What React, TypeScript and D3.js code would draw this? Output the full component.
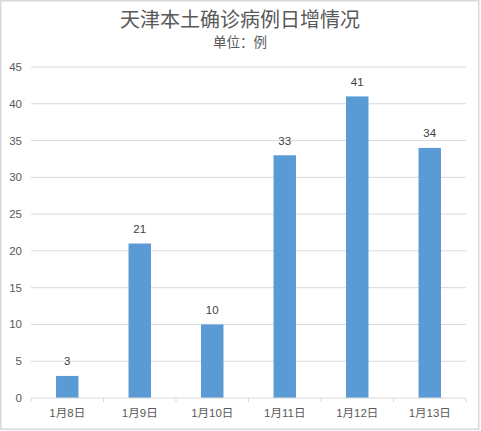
import React from "react";
import * as d3 from "d3";

const categories = ["1月8日", "1月9日", "1月10日", "1月11日", "1月12日", "1月13日"];
const values = [3, 21, 10, 33, 41, 34];
const yTicks = [0, 5, 10, 15, 20, 25, 30, 35, 40, 45];
const title = "天津本土确诊病例日增情况";
const subtitle = "单位：例";

const W = 481;
const H = 431;
const M = { left: 31, right: 15, top: 67, bottom: 33 };
const FONT = "'Liberation Sans', 'Noto Sans CJK SC', sans-serif";
const TEXT = "#595959";
const GRID = "#d9d9d9";
const BAR = "#5b9bd5";

export default function App() {
  const x = d3
    .scaleBand<string>()
    .domain(categories)
    .range([M.left, W - M.right])
    .paddingInner(0.69)
    .paddingOuter(0.345);
  const band = d3.scaleBand<string>().domain(categories).range([M.left, W - M.right]);
  const y = d3.scaleLinear().domain([0, 45]).range([H - M.bottom, M.top]);
  const y0 = y(0);
  const bounds = [...categories.map((c) => band(c) as number), W - M.right];

  return (
    <svg
      width={W}
      height={H}
      style={{ position: "absolute", left: 0, top: 0, background: "#fff" }}
    >
      <rect x={0.75} y={0.75} width={478} height={428.5} fill="#fff" stroke={GRID} strokeWidth={1.5} />
      <text x={240} y={27} textAnchor="middle" fontFamily={FONT} fontSize={20} fill={TEXT}>
        {title}
      </text>
      <text x={240} y={47} textAnchor="middle" fontFamily={FONT} fontSize={13.5} fill={TEXT}>
        {subtitle}
      </text>
      {yTicks.map((t) => (
        <g key={t}>
          {t > 0 && (
            <line x1={M.left} x2={W - M.right} y1={y(t)} y2={y(t)} stroke={GRID} strokeWidth={1} />
          )}
          <text x={22} y={y(t)} dy="0.35em" textAnchor="end" fontFamily={FONT} fontSize={11.5} fill={TEXT}>
            {t}
          </text>
        </g>
      ))}
      {values.map((v, i) => (
        <g key={categories[i]}>
          <rect x={x(categories[i])} y={y(v)} width={x.bandwidth()} height={y0 - y(v)} fill={BAR} />
          <text
            x={(x(categories[i]) as number) + x.bandwidth() / 2}
            y={y(v) - 10.5}
            textAnchor="middle"
            fontFamily={FONT}
            fontSize={11.5}
            fill="#404040"
          >
            {v}
          </text>
        </g>
      ))}
      <line x1={M.left} x2={W - M.right} y1={y0} y2={y0} stroke={GRID} strokeWidth={1} />
      {bounds.map((b, i) => (
        <line key={i} x1={b} x2={b} y1={y0} y2={y0 + 4} stroke={GRID} strokeWidth={1} />
      ))}
      {categories.map((c) => (
        <text
          key={c}
          x={(band(c) as number) + band.bandwidth() / 2}
          y={413}
          dy="0.35em"
          textAnchor="middle"
          fontFamily={FONT}
          fontSize={11.5}
          fill={TEXT}
        >
          {c}
        </text>
      ))}
    </svg>
  );
}
